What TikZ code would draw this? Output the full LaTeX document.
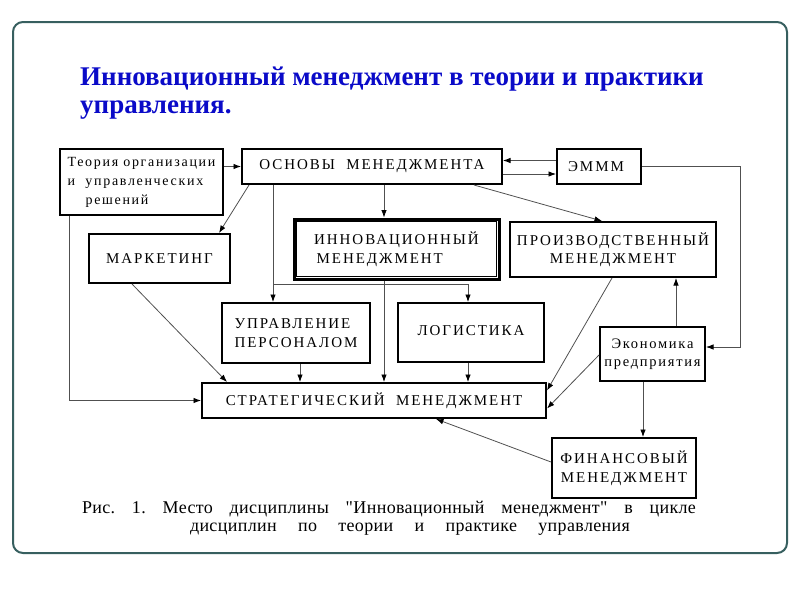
\documentclass[tikz,border=0pt]{standalone}
\usepackage{fontspec}
\setmainfont{Liberation Serif}
\newfontfamily\capsfont[LetterSpace=13]{Liberation Serif}
\newfontfamily\lowfont[LetterSpace=12]{Liberation Serif}
\newfontfamily\capfont[LetterSpace=2]{Liberation Serif}
\usetikzlibrary{arrows.meta,calc}
\definecolor{framec}{RGB}{55,95,95}
\definecolor{titleblue}{RGB}{10,10,200}
\definecolor{linec}{RGB}{80,80,80}
\frenchspacing
\begin{document}
\begin{tikzpicture}[x=1pt,y=-1pt,
  box/.style={draw=black,line width=2pt,fill=white,inner sep=0pt,
    font=\capsfont\fontsize{15}{18.5}\selectfont,align=center},
  arr/.style={draw=linec,line width=0.8pt,-{Latex[length=7.5pt,width=5.5pt,color=black]}},
  ttl/.style={anchor=west,font=\bfseries\fontsize{27}{30}\selectfont,text=titleblue,inner sep=0pt},
  cpt/.style={font=\capfont\fontsize{18}{19}\selectfont,inner sep=0pt}]
\useasboundingbox (0,0) rectangle (800,600);
% frame
\draw[framec,line width=2pt,rounded corners=10pt] (13,22) rectangle (787,553);
% title
\node[ttl] (t1) at (80,79) {Инновационный менеджмент в теории и практики};
\node[ttl] (t2) at (80,110) {управления.};
% boxes
\node[box,minimum width=163pt,minimum height=66pt,align=left,font=\lowfont\fontsize{14}{19}\selectfont] (teor) at (141.5,182) {Теория организации\\и \ управленческих\\\hspace*{18pt}решений};
\node[box,minimum width=260pt,minimum height=35pt] (osn) at (372,166.5) {ОСНОВЫ \ МЕНЕДЖМЕНТА};
\node[box,minimum width=84pt,minimum height=35pt] (emmm) at (599,166.5) {\hspace*{-6pt}ЭМММ};
\node[box,minimum width=141pt,minimum height=49pt] (mark) at (159.5,258.5) {МАРКЕТИНГ};
\node[box,minimum width=205pt,minimum height=60pt,line width=3pt,align=left] (innov) at (396.5,249) {ИННОВАЦИОННЫЙ\\\,МЕНЕДЖМЕНТ};
\draw[line width=1pt] ($(innov.north west)+(4,4)$) rectangle ($(innov.south east)+(-4,-4)$);
\node[box,minimum width=206pt,minimum height=55pt] (proiz) at (613,249.5) {ПРОИЗВОДСТВЕННЫЙ\\МЕНЕДЖМЕНТ};
\node[box,minimum width=148pt,minimum height=60pt,align=left] (upr) at (296,333) {УПРАВЛЕНИЕ\\ПЕРСОНАЛОМ};
\node[box,minimum width=146pt,minimum height=59pt] (log) at (471,332.5) {\raisebox{4pt}{ЛОГИСТИКА}};
\node[box,minimum width=344pt,minimum height=35pt] (strat) at (374,400.5) {СТРАТЕГИЧЕСКИЙ \ МЕНЕДЖМЕНТ};
\node[box,minimum width=105pt,minimum height=54pt,font=\lowfont\fontsize{14.5}{18}\selectfont] (econ) at (652.5,354) {Экономика\\предприятия};
\node[box,minimum width=144pt,minimum height=60pt] (fin) at (624,468) {ФИНАНСОВЫЙ\\МЕНЕДЖМЕНТ};
% x-guides
\coordinate (x69) at (69,0);
\coordinate (x273) at (273,0);
\coordinate (x300) at (300,0);
\coordinate (x384) at (384,0);
\coordinate (x468) at (468,0);
\coordinate (x643) at (643,0);
\coordinate (x676) at (676,0);
\coordinate (eR) at (740,347);
\coordinate (brL) at (273,284);
\coordinate (brR) at (468,284);
% connectors
\draw[arr] (teor.east |- osn.west) -- (osn.west);
\draw[arr] ($(emmm.west)+(0,-6)$) -- ($(osn.east)+(0,-6)$);
\draw[arr] ($(osn.east)+(0,7.5)$) -- ($(emmm.west)+(0,7.5)$);
\draw[arr] (emmm.east) -| (eR) -- (eR -| econ.east);
\draw[arr] ($(osn.south west)+(8,0)$) -- ($(mark.north east)+(-12,0)$);
\draw[arr] (osn.south -| x384) -- (innov.north -| x384);
\draw[arr] ($(osn.south west)+(233,0)$) -- ($(proiz.north west)+(93,0)$);
\draw[arr] (osn.south -| x273) -- (upr.north -| x273);
\draw[arr] (brL) -- (brR) -- (log.north -| x468);
\draw[arr] (innov.south -| x384) -- (strat.north -| x384);
\draw[arr] (upr.south -| x300) -- (strat.north -| x300);
\draw[arr] (log.south -| x468) -- (strat.north -| x468);
\draw[arr] ($(mark.south west)+(44,0)$) -- ($(strat.north west)+(26,0)$);
\draw[arr] (teor.south -| x69) |- (strat.west);
\draw[arr] ($(proiz.south west)+(103,0)$) -- ($(strat.east)+(0,-10)$);
\draw[arr] ($(econ.west)+(0,1)$) -- ($(strat.east)+(0,8)$);
\draw[arr] (econ.north -| x676) -- (proiz.south -| x676);
\draw[arr] (econ.south -| x643) -- (fin.north -| x643);
\draw[arr] ($(fin.west)+(0,-6)$) -- ($(strat.south west)+(235,0)$);
% caption
\node[cpt] (cap1) at (389,509) {\makebox[614pt][s]{Рис. 1. Место дисциплины "Инновационный менеджмент" в цикле}};
\node[cpt] (cap2) at (410,529) {\makebox[440pt][s]{дисциплин по теории и практике управления}};
\end{tikzpicture}
\end{document}
